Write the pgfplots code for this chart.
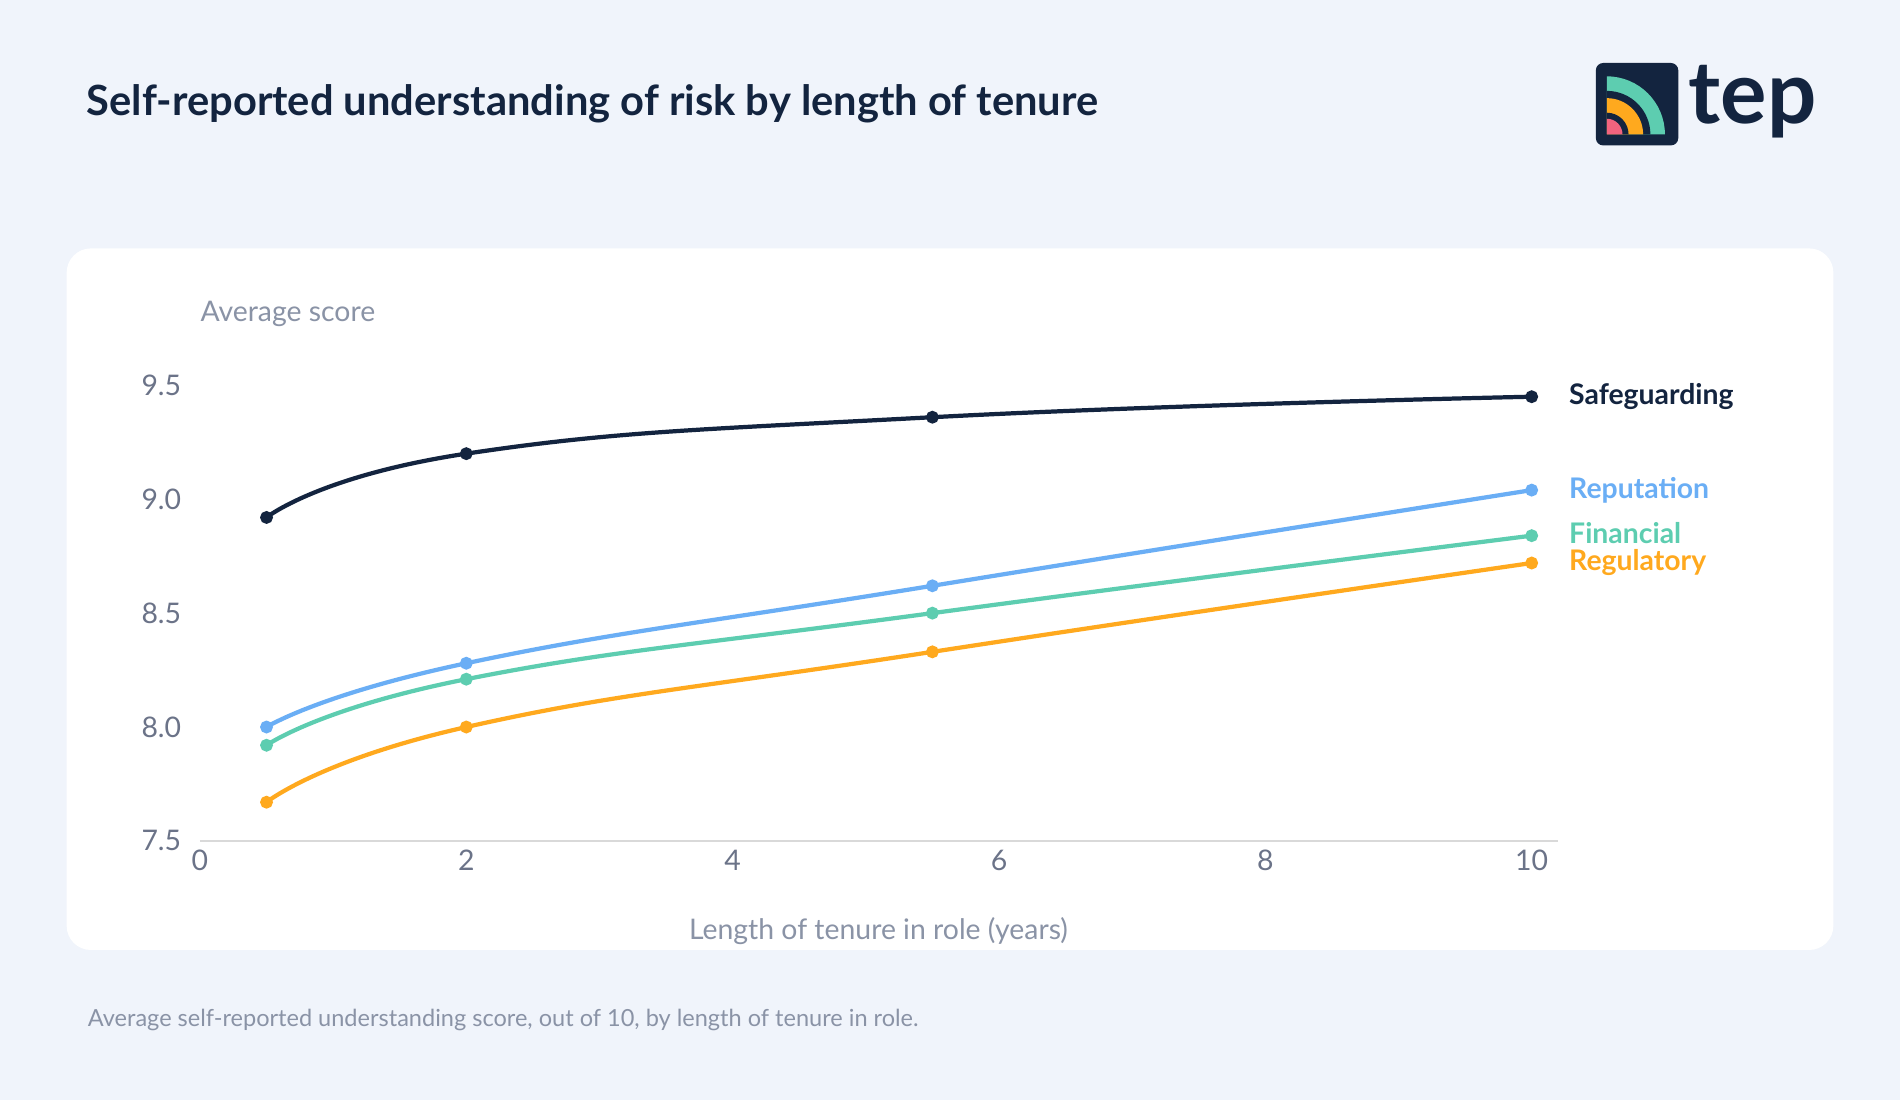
\documentclass[border=0pt]{standalone}
\usepackage{pgfplots}
\pgfplotsset{compat=1.18}
\usepackage{fontspec}
\setmainfont{Lato}
\definecolor{bg}{HTML}{F0F4FB}
\definecolor{navy}{HTML}{13243F}
\definecolor{cblue}{HTML}{6AAEF5}
\definecolor{cteal}{HTML}{5DCDB0}
\definecolor{corange}{HTML}{FFA91E}
\definecolor{cpink}{HTML}{F2637E}
\definecolor{txtgray}{HTML}{6B7388}
\definecolor{lgray}{HTML}{8A93A6}
\begin{document}
\begin{tikzpicture}[x=1bp,y=1bp]
\fill[bg] (0,0) rectangle (1568,908);
\fill[white,rounded corners=20bp] (55,124) rectangle (1513,703);
\node[anchor=west,text=navy,font=\fontsize{34.5}{38}\selectfont\bfseries] at (68,822) {Self-reported understanding of risk by length of tenure};
% logo
\fill[navy,rounded corners=6bp] (1317,788) rectangle (1385,856);
\begin{scope}
\clip (1317,788) rectangle (1385,856);
\fill[cteal] (1326,797) -- (1326,845) arc (90:0:48) -- cycle;
\fill[navy] (1326,797) -- (1326,833) arc (90:0:36) -- cycle;
\fill[corange] (1326,797) -- (1326,827) arc (90:0:30) -- cycle;
\fill[navy] (1326,797) -- (1326,815) arc (90:0:18) -- cycle;
\fill[cpink] (1326,797) -- (1326,810) arc (90:0:13) -- cycle;
\end{scope}
\node[anchor=west,text=navy,font=\fontsize{72}{76}\selectfont\bfseries] at (1390,824) {tep};
\node[anchor=west,text=lgray,font=\fontsize{19.5}{22}\selectfont] at (69,66) {Average self-reported understanding score, out of 10, by length of tenure in role.};
\node[anchor=west,text=lgray,font=\fontsize{23.5}{26}\selectfont] at (162,649) {Average score};
\node[text=lgray,font=\fontsize{23.5}{26}\selectfont] at (725,140) {Length of tenure in role (years)};
\begin{axis}[at={(165bp,214bp)},anchor=south west,scale only axis,
 width=1121bp,height=394.8bp,xmin=0,xmax=10.2,ymin=7.5,ymax=9.6,
 axis x line*=bottom, axis y line*=left, x axis line style={draw=black!15,line width=1pt},
 y axis line style={draw=none},
 xtick={0,2,...,10},ytick={7.5,8,8.5,9,9.5},major tick length=0pt,
 yticklabel style={/pgf/number format/fixed,/pgf/number format/fixed zerofill,/pgf/number format/precision=1},
 ticklabel style={text=txtgray,font=\fontsize{23.5}{26}\selectfont},
 /pgf/number format/assume math mode=true,
 xticklabel style={yshift=-4bp}, yticklabel style={xshift=-12bp},
 clip=false]
\addplot[navy,line width=3.5pt,smooth,tension=0.8,mark=*,mark size=3.5pt] coordinates {(0.5,8.92)(2,9.20)(5.5,9.36)(10,9.45)};
\addplot[cblue,line width=3.5pt,smooth,tension=0.8,mark=*,mark size=3.5pt] coordinates {(0.5,8.00)(2,8.28)(5.5,8.62)(10,9.04)};
\addplot[cteal,line width=3.5pt,smooth,tension=0.8,mark=*,mark size=3.5pt] coordinates {(0.5,7.92)(2,8.21)(5.5,8.50)(10,8.84)};
\addplot[corange,line width=3.5pt,smooth,tension=0.8,mark=*,mark size=3.5pt] coordinates {(0.5,7.67)(2,8.00)(5.5,8.33)(10,8.72)};
\node[anchor=west,text=navy,font=\fontsize{23.5}{26}\selectfont\bfseries] at (axis cs:10.25,9.45) {Safeguarding};
\node[anchor=west,text=cblue,font=\fontsize{23.5}{26}\selectfont\bfseries] at (axis cs:10.25,9.04) {Reputation};
\node[anchor=west,text=cteal,font=\fontsize{23.5}{26}\selectfont\bfseries] at (axis cs:10.25,8.85) {Financial};
\node[anchor=west,text=corange,font=\fontsize{23.5}{26}\selectfont\bfseries] at (axis cs:10.25,8.72) {Regulatory};
\end{axis}
\end{tikzpicture}
\end{document}
